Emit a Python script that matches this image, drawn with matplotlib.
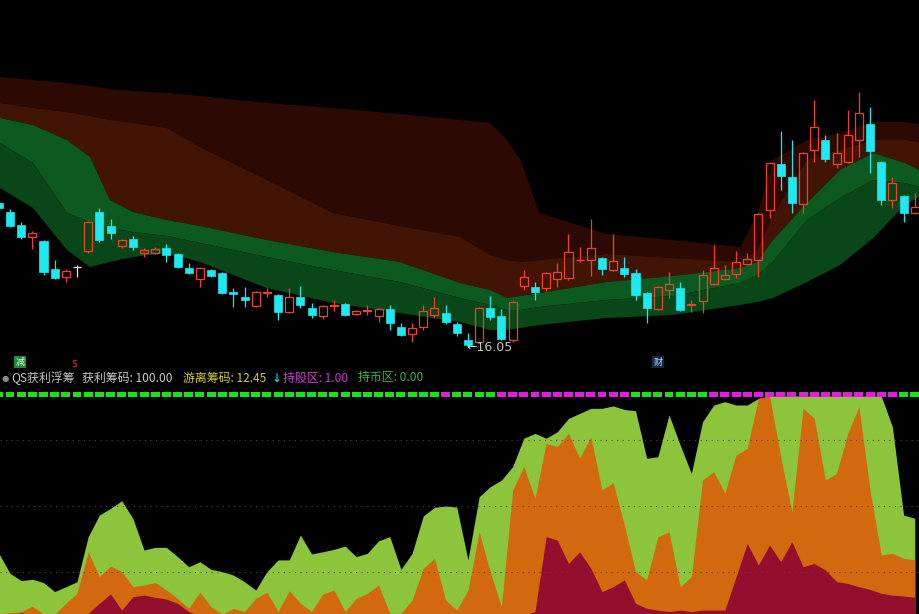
import matplotlib
matplotlib.use('Agg')
import matplotlib.pyplot as plt
from matplotlib.transforms import blended_transform_factory

plt.rcParams['font.family'] = ['Noto Sans CJK SC', 'DejaVu Sans']

# candles (price) -> index 0..82
opens = [23.25, 22.80, 22.15, 21.55, 21.35, 19.95, 19.55, 20.05, 20.85, 22.80,
         22.10, 21.10, 21.45, 20.75, 20.75, 21.00, 20.70, 20.00, 19.45, 19.90,
         19.75, 18.80, 18.55, 18.10, 18.77, 18.65, 17.80, 18.55, 18.00, 17.60,
         18.10, 18.20, 17.70, 17.86, 17.60, 17.95, 17.05, 16.70, 17.05, 17.65,
         17.75, 17.20, 16.40, 16.30, 18.00, 17.60, 16.40, 19.10, 19.05, 19.00,
         19.45, 19.50, 20.38, 20.40, 20.50, 19.90, 20.00, 19.75, 18.75, 17.95,
         18.90, 19.00, 18.17, 18.35, 19.20, 19.45, 19.70, 20.20, 20.40, 22.90,
         25.20, 24.55, 23.20, 25.90, 26.40, 25.20, 25.30, 26.40, 27.20, 25.30,
         23.40, 23.60, 22.75]
highs = [23.40, 22.95, 22.30, 21.85, 21.40, 20.40, 19.95, 20.15, 22.35, 23.00,
         22.45, 21.45, 21.60, 21.00, 21.05, 21.20, 20.75, 20.25, 20.05, 19.95,
         19.80, 19.00, 19.05, 18.85, 19.00, 18.70, 19.00, 19.10, 18.25, 18.15,
         18.40, 18.25, 17.90, 18.15, 18.00, 18.15, 17.25, 17.25, 18.15, 18.55,
         18.15, 17.30, 16.75, 18.05, 18.60, 17.95, 18.35, 19.90, 19.30, 19.80,
         20.25, 21.70, 21.05, 22.45, 20.55, 21.70, 20.55, 19.95, 18.80, 19.10,
         19.80, 19.30, 18.40, 19.90, 21.15, 20.15, 20.85, 20.75, 22.75, 25.30,
         26.85, 26.40, 25.80, 28.40, 26.65, 26.75, 27.90, 28.80, 28.05, 25.35,
         24.55, 23.65, 23.75]
lows = [22.85, 22.05, 21.45, 20.95, 19.65, 19.45, 19.30, 19.55, 20.75, 21.30,
        21.45, 21.00, 20.90, 20.55, 20.70, 20.30, 20.00, 19.70, 19.05, 19.55,
        18.70, 18.05, 18.05, 18.05, 18.55, 17.40, 17.75, 18.00, 17.50, 17.45,
        17.85, 17.60, 17.65, 17.65, 17.30, 16.90, 16.60, 16.30, 16.90, 17.50,
        17.20, 16.60, 16.05, 16.25, 17.40, 16.40, 16.30, 18.90, 18.40, 18.85,
        19.05, 19.40, 20.30, 19.60, 19.65, 19.85, 19.55, 18.40, 17.25, 17.90,
        18.50, 17.85, 17.80, 17.75, 19.15, 19.40, 19.50, 20.15, 19.55, 22.50,
        23.90, 22.75, 22.75, 25.30, 25.30, 25.00, 25.25, 25.55, 24.75, 23.15,
        23.00, 22.30, 22.70]
closes = [23.00, 22.10, 21.55, 21.75, 19.80, 19.50, 19.85, 20.05, 22.30, 21.40,
          21.75, 21.40, 21.05, 20.90, 20.95, 20.65, 20.05, 19.75, 20.00, 19.60,
          18.75, 18.70, 18.40, 18.80, 18.80, 17.80, 18.55, 18.15, 17.65, 18.10,
          18.13, 17.65, 17.85, 17.88, 17.95, 17.25, 16.65, 17.00, 17.85, 18.00,
          17.30, 16.75, 16.15, 18.00, 17.55, 16.45, 18.30, 19.55, 18.80, 19.75,
          19.80, 20.80, 20.40, 21.00, 19.95, 20.35, 19.70, 18.65, 18.00, 19.05,
          19.20, 17.90, 18.20, 19.65, 20.00, 19.65, 20.30, 20.45, 22.70, 25.25,
          24.60, 23.25, 25.75, 27.05, 25.45, 25.75, 26.65, 27.75, 25.85, 23.40,
          24.25, 22.75, 23.05]

# cost bands, x in candle index units
band_x = [0.1, 3.06, 6.1, 8.16, 9.95, 12.0, 15.05, 18.0, 24.0, 29.9, 35.9, 41.3, 44.0,
          45.5, 46.7, 48.4, 54.4, 60.35, 66.35, 67.9, 69.3, 72.35, 75.3, 78.3, 81.1, 82.4]
band_top = [29.55, 29.40, 29.25, 29.10, 28.95, 28.85, 28.75, 28.60, 28.25, 28.00, 27.70, 27.40, 27.25,
            26.40, 25.40, 22.75, 21.70, 21.40, 21.05, 22.65, 25.40, 26.40, 26.75, 27.30, 27.30, 27.20]
band_mid1 = [28.25, 28.00, 27.80, 27.60, 27.40, 27.25, 27.00, 26.05, 24.40, 22.75, 22.10, 21.55, 20.65,
             20.40, 20.30, 20.40, 20.70, 20.50, 20.30, 20.90, 22.65, 25.40, 25.90, 26.40, 26.40, 26.30]
band_mid2 = [27.50, 27.15, 26.40, 25.55, 23.40, 22.80, 22.40, 22.10, 21.40, 20.80, 20.30, 19.25, 18.90,
             18.50, 18.60, 18.75, 19.30, 19.60, 20.00, 20.30, 21.40, 23.25, 24.90, 25.75, 25.25, 24.90]
band_mid3 = [26.25, 25.25, 22.75, 22.30, 22.00, 21.80, 21.60, 21.25, 20.55, 19.90, 19.30, 18.50, 18.15,
             17.90, 17.90, 18.05, 18.40, 18.60, 19.25, 19.65, 20.30, 22.40, 23.50, 24.40, 24.25, 24.05]
band_bottom = [24.00, 23.00, 20.90, 20.05, 20.30, 20.55, 20.75, 20.30, 19.00, 18.25, 17.75, 17.30, 16.90,
               16.90, 17.00, 17.15, 17.50, 17.65, 18.15, 18.30, 18.50, 19.30, 20.15, 21.50, 23.15, 23.55]

# lower panel (0-100)
profit = [28.5, 19.4, 16.1, 16.7, 15.2, 11.1, 13.3, 15.6, 36.1, 45.9,
          48.9, 52.4, 44.4, 30.0, 31.2, 31.2, 27.0, 22.4, 24.7, 21.2,
          20.2, 18.6, 15.6, 11.8, 20.2, 25.5, 25.5, 36.8, 28.2, 29.2,
          30.3, 31.8, 27.0, 28.5, 34.2, 36.1, 21.2, 28.5, 45.5, 49.4,
          50.0, 49.5, 25.5, 54.2, 58.8, 61.8, 67.9, 80.8, 83.0, 80.8,
          83.8, 89.8, 92.1, 94.4, 94.4, 95.5, 93.9, 93.3, 71.7, 72.4,
          91.4, 77.7, 64.8, 88.3, 95.9, 97.4, 95.9, 95.9, 98.9, 100,
          100, 100, 100, 100, 100, 100, 100, 100, 100, 100,
          86.0, 45.9, 44.4]
floating = [1.0, 1.5, 2.0, 4.5, 0.8, 0.8, 5.8, 10.3, 29.2, 17.9,
            22.7, 20.2, 13.3, 14.1, 15.2, 11.8, 8.0, 3.5, 10.8, 4.2,
            0.8, 3.5, 2.0, 8.0, 10.8, 2.0, 11.5, 5.8, 2.0, 10.0,
            11.8, 2.0, 8.0, 10.3, 14.1, 1.2, 1.2, 7.3, 21.7, 26.2,
            7.3, 2.7, 11.8, 38.3, 20.0, 4.2, 57.3, 67.9, 53.5, 78.5,
            77.0, 83.0, 71.7, 81.5, 57.3, 60.6, 41.4, 20.2, 16.4, 36.1,
            38.3, 13.3, 17.9, 61.8, 65.6, 55.8, 73.2, 76.2, 98.9, 100,
            72.4, 47.4, 94.4, 89.8, 61.8, 64.8, 83.0, 95.2, 57.0, 27.7,
            28.5, 26.2, 25.5]
core = [0, 0, 1.5, 0, 0, 0, 0, 0, 1.2, 5.8,
        10.0, 2.7, 8.8, 9.5, 8.5, 7.7, 5.8, 2.0, 0, 0,
        0, 0, 0, 0, 0, 0, 0, 0, 0, 0,
        0, 0, 0, 0, 0, 0, 0, 0, 0, 0,
        0, 0, 0, 0, 0, 0, 0, 0.5, 2.0, 36.1,
        34.5, 23.9, 29.2, 21.7, 11.1, 13.3, 16.4, 5.8, 3.5, 2.7,
        2.0, 2.7, 2.0, 2.7, 2.7, 2.7, 17.9, 33.0, 23.2, 32.3,
        24.7, 33.8, 22.4, 23.9, 20.9, 15.6, 14.8, 13.3, 12.1, 10.3,
        9.5, 9.1, 8.5]
# G = 持币, M = 持股
zone = 'GGGGGGGGGGGGGGGGGGGGGGGGGGGGGGGGGGGGGGGGMGGGGMMMMMMMMMMMMGGGGGGGMMMMMMMMMMMMMMMMMGG'
grid_levels = [20, 50, 80]

RED = '#f0402e'
CYAN = '#1ee8f0'

fig = plt.figure(figsize=(9.19, 6.14), dpi=100, facecolor='black')
ax1 = fig.add_axes([0, 1 - 370 / 614, 1, 370 / 614])
ax2 = fig.add_axes([0, 0, 1, 229 / 614])
for ax in (ax1, ax2):
    ax.set_facecolor('black')
    ax.set_xlim(0.105, 82.38)
    ax.axis('off')
ax1.set_ylim(14.90, 33.40)
ax2.set_ylim(0.91, 105.0)

# bands
ax1.fill_between(band_x, band_mid1, band_top, color='#2c0a03', lw=0)
ax1.fill_between(band_x, band_mid2, band_mid1, color='#421406', lw=0)
ax1.fill_between(band_x, band_mid3, band_mid2, color='#0c5a1f', lw=0)
ax1.fill_between(band_x, band_bottom, band_mid3, color='#0a4718', lw=0)

# candles
bw = 0.72
for i in range(len(opens)):
    o, h, l, c = opens[i], highs[i], lows[i], closes[i]
    if c > o:
        ax1.bar(i, c - o, bottom=o, width=bw, facecolor='none', edgecolor=RED, lw=0.9, zorder=3)
        ax1.vlines(i, c, h, color=RED, lw=0.9, zorder=3)
        ax1.vlines(i, l, o, color=RED, lw=0.9, zorder=3)
    elif c < o:
        ax1.vlines(i, l, h, color=CYAN, lw=0.9, zorder=3)
        ax1.bar(i, o - c, bottom=c, width=bw, color=CYAN, lw=0.5, edgecolor=CYAN, zorder=3)
    else:
        ax1.vlines(i, l, h, color='#e8e8e8', lw=0.9, zorder=3)
        ax1.hlines(o, i - bw / 2, i + bw / 2, color='#e8e8e8', lw=0.9, zorder=3)

low_idx = lows.index(min(lows))
ax1.text(low_idx - 0.1, lows[low_idx], '\u2190' + '%.2f' % lows[low_idx], color='#c4c4c4',
         fontsize=9, ha='left', va='center', family=['DejaVu Sans'], zorder=4)

# small signal markers just above the header line
tr = blended_transform_factory(ax1.transData, fig.transFigure)
ax1.text(1.9, 1 - 362 / 614, '减', transform=tr, color='#d8f8d8', fontsize=6.5, ha='center', va='center',
         bbox=dict(boxstyle='square,pad=0.15', fc='#1f8a3a', ec='none'))
ax1.text(6.8, 1 - 363 / 614, '$', transform=tr, color='#e02a20', fontsize=7, ha='center', va='center',
         family=['DejaVu Sans'])
ax1.text(59.0, 1 - 362 / 614, '财', transform=tr, color='#c8d8ff', fontsize=6.5, ha='center', va='center',
         bbox=dict(boxstyle='square,pad=0.15', fc='#14284a', ec='none'))

# header line
hy = 1 - 378 / 614
fig.text(5 / 919, hy, '\u25cf', color='#8a8a8a', fontsize=6, ha='center', va='center', family=['DejaVu Sans'])
header = [(11, 'QS获利浮筹', '#c8c8c8'),
          (82, '获利筹码: 100.00', '#c8c8c8'),
          (183, '游离筹码: 12.45', '#d2cc28'),
          (283, '持股区: 1.00', '#c83cc8'),
          (358, '持币区: 0.00', '#3cb43c')]
for x, s, col in header:
    fig.text(x / 919, hy, s, color=col, fontsize=8.6, ha='left', va='center')
fig.text(272 / 919, hy, '\u2193', color=CYAN, fontsize=8.6, ha='left', va='center', family=['DejaVu Sans'])

# lower panel
idx = list(range(len(profit)))
ax2.fill_between(idx, 0, profit, color='#8cc43c', lw=0)
ax2.fill_between(idx, 0, floating, color='#d2690f', lw=0)
ax2.fill_between(idx, 0, core, color='#940f2e', lw=0)
for g in grid_levels:
    ax2.axhline(g, color='#6a3a30', ls=(0, (1, 4)), lw=0.8, zorder=4)

zone_colors = ['#14e614' if z == 'G' else '#e619e6' for z in zone]
ax2.bar(idx, 2.2, bottom=99.6, width=0.8, color=zone_colors, lw=0, zorder=5)

fig.savefig('out.png', dpi=100, facecolor='black')
